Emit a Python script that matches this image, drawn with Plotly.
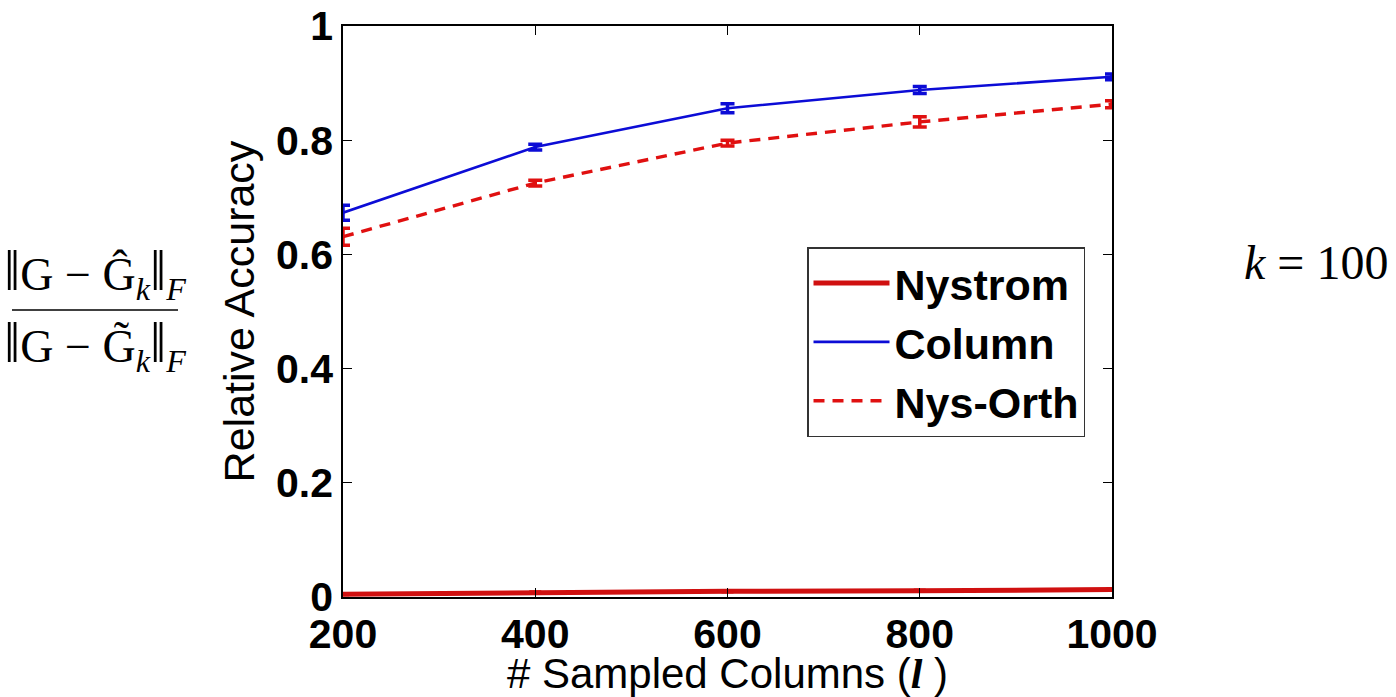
import plotly.graph_objects as go

# ---- data ----
sampled_columns = [200, 400, 600, 800, 1000]
nystrom = [0.005, 0.008, 0.010, 0.011, 0.013]
nystrom_err = [0.002, 0.002, 0.002, 0.002, 0.002]
column = [0.673, 0.788, 0.856, 0.888, 0.911]
column_err = [0.013, 0.005, 0.008, 0.006, 0.005]
nys_orth = [0.631, 0.725, 0.795, 0.832, 0.863]
nys_orth_err = [0.015, 0.005, 0.005, 0.009, 0.006]
y_ticks = [0, 0.2, 0.4, 0.6, 0.8, 1]
y_tick_text = ["0", "0.2", "0.4", "0.6", "0.8", "1"]
x_ticks = [200, 400, 600, 800, 1000]

W, H = 1396, 697
L, R, T, B = 343, 284, 26, 100
pw, ph = W - L - R, H - T - B


def px(xp):
    return (xp - L) / pw


def py(yp):
    return (H - B - yp) / ph


RED = "#e01010"
RED_D = "#d01010"
BLUE = "#0c0cd6"

fig = go.Figure()
fig.add_trace(go.Scatter(
    x=sampled_columns, y=nystrom, name="Nystrom", mode="lines",
    line=dict(color=RED_D, width=5),
    error_y=dict(type="data", array=nystrom_err, color=RED_D, thickness=2, width=6),
))
fig.add_trace(go.Scatter(
    x=sampled_columns, y=column, name="Column", mode="lines",
    line=dict(color=BLUE, width=2.6),
    error_y=dict(type="data", array=column_err, color=BLUE, thickness=3.5, width=7),
))
fig.add_trace(go.Scatter(
    x=sampled_columns, y=nys_orth, name="Nys-Orth", mode="lines",
    line=dict(color=RED, width=3.4, dash="11px,8px"),
    error_y=dict(type="data", array=nys_orth_err, color=RED, thickness=3.5, width=7),
))

axis_common = dict(
    showline=True, linecolor="black", linewidth=1.5, mirror="ticks",
    ticks="inside", ticklen=9, tickwidth=1.2, tickcolor="black",
    showgrid=False, zeroline=False,
    tickfont=dict(family="Liberation Sans, Arial", size=41, color="black", weight="bold"),
)

fig.update_layout(
    width=W, height=H,
    margin=dict(l=L, r=R, t=T, b=B, autoexpand=False),
    paper_bgcolor="white", plot_bgcolor="white",
    font=dict(family="Liberation Sans, Arial", color="black"),
    xaxis=dict(
        range=[200, 1000], tickvals=x_ticks, **axis_common,
        title=dict(text="# Sampled Columns (<span style=\"font-family:Liberation Serif\"><b><i>l</i></b></span> )",
                   font=dict(size=42, family="Liberation Sans, Arial"), standoff=8),
    ),
    yaxis=dict(
        range=[0, 1], tickvals=y_ticks, ticktext=y_tick_text, **axis_common,
        title=dict(text="Relative Accuracy", font=dict(size=43, family="Liberation Sans, Arial"), standoff=8),
    ),
    showlegend=True,
    legend=dict(
        x=px(807), y=py(247), xanchor="left", yanchor="top",
        bgcolor="white", bordercolor="#333333", borderwidth=1.5,
        font=dict(size=43, family="Liberation Sans, Arial", color="black", weight="bold"),
        itemwidth=76, tracegroupgap=0,
    ),
)

serif = "Liberation Serif, Times New Roman"
bar = "<span style=\"font-size:58px\">‖</span>"
fig.add_annotation(
    xref="paper", yref="paper", x=px(95), y=py(272),
    text=bar + "G − Ĝ<sub><i>k</i></sub>" + bar + "<sub><i>F</i></sub>",
    showarrow=False, font=dict(family=serif, size=46, color="black"),
    xanchor="center", yanchor="middle",
)
fig.add_annotation(
    xref="paper", yref="paper", x=px(95), y=py(344),
    text=bar + "G − G\u0303<sub><i>k</i></sub>" + bar + "<sub><i>F</i></sub>",
    showarrow=False, font=dict(family=serif, size=46, color="black"),
    xanchor="center", yanchor="middle",
)
fig.add_shape(
    type="line", xref="paper", yref="paper",
    x0=px(12), x1=px(178), y0=py(310), y1=py(310),
    line=dict(color="black", width=1.5),
)
fig.add_annotation(
    xref="paper", yref="paper", x=px(1316), y=py(262),
    text="<i>k</i> = 100",
    showarrow=False, font=dict(family=serif, size=48, color="black"),
    xanchor="center", yanchor="middle",
)

fig.write_html("out.html")
